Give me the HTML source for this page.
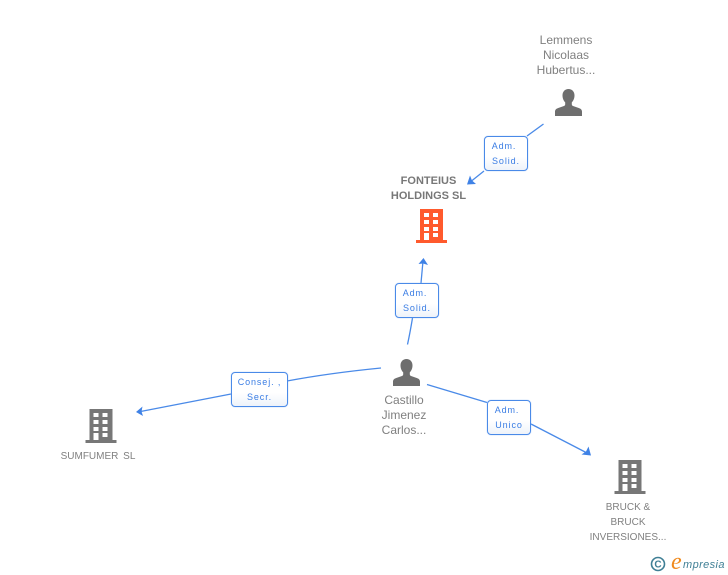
<!DOCTYPE html>
<html>
<head>
<meta charset="utf-8">
<style>
html,body{margin:0;padding:0;background:#fff;}
body{width:728px;height:575px;overflow:hidden;position:relative;font-family:"Liberation Sans",sans-serif;}
svg{position:absolute;left:0;top:0;}
.t{position:absolute;text-align:center;color:#808080;font-size:11px;line-height:15px;white-space:nowrap;transform:translateX(-50%);}
.p{font-size:12px;}
.b{position:absolute;box-sizing:border-box;border:1px solid #4a8ae8;border-radius:4px;background:linear-gradient(#fff 60%,#eef3fa);color:#3a7de4;font-size:9px;line-height:15px;letter-spacing:.9px;text-align:center;padding-top:2px;white-space:nowrap;box-shadow:0 0 1px #8fb5ee;}
.b span{position:relative;left:-2px;}
</style>
</head>
<body>
<svg width="728" height="575" viewBox="0 0 728 575">
<defs>
<g id="person">
<path d="M13.500 0c3.500 0 6 2.600 6 6.400 0 3-1.100 5.400-2.700 7v1.800c0 1 .5 1.500 1.600 1.900l5.700 2c2.100.8 2.900 1.900 2.900 3.700V27H0v-4.200c0-1.800.8-2.900 2.900-3.700l5.700-2c1.100-.4 1.600-.9 1.600-1.900v-1.800c-1.600-1.600-2.700-4-2.700-7C7.500 2.600 10 0 13.500 0z" fill="#6e6e6e"/>
</g>
<g id="bld">
<path fill-rule="evenodd" d="M4 0H27V31H31V34H0V31H4ZM8 4V8H13V4ZM17 4V8H22V4ZM8 11V15H13V11ZM17 11V15H22V11ZM8 18V22H13V18ZM17 18V22H22V18ZM8 24V31H13V24ZM17 24V28H22V24Z"/>
</g>
</defs>
<g fill="none" stroke="#4a8ae8" stroke-width="1.300">
<path d="M543.500 124L527 136"/>
<path d="M484 171L469 183"/>
<path d="M407.500 344.500Q410 333 412.500 318"/>
<path d="M421 283L423 261"/>
<path d="M381 368Q330 373 287 381"/>
<path d="M231 394L138 412"/>
<path d="M427 384.500L487 402.500"/>
<path d="M531 424L589 454"/>
</g>
<g fill="#3f82e6">
<path d="M467 184.500L470 175.500L472 180.500L476 184Z"/>
<path d="M423.500 258L428 265L423 263.500L418.500 264Z"/>
<path d="M136 412L142.500 406.500L141.500 411.500L143 416Z"/>
<path d="M591 455.500L581.500 454.500L586 451.500L588.500 446.500Z"/>
</g>
<use href="#person" x="555" y="89"/>
<use href="#person" x="393" y="359"/>
<use href="#bld" x="416" y="209" fill="#ff5a2d"/>
<use href="#bld" x="85.500" y="409" fill="#777777"/>
<use href="#bld" x="614.500" y="460" fill="#777777"/>
<g fill="none" stroke="#3f7f95" stroke-width="1.600"><circle cx="658" cy="564" r="6.500"/></g>
<text x="658" y="567.500" font-family="Liberation Sans, sans-serif" font-size="10" font-weight="bold" fill="#3f7f95" text-anchor="middle">C</text>
<text x="671" y="569" font-family="Liberation Serif, serif" font-style="italic" font-size="24" fill="#f08a1d">e</text>
<text x="683" y="568" font-family="Liberation Sans, sans-serif" font-style="italic" font-size="11" letter-spacing=".4" fill="#3f7f95">mpresia</text>
</svg>

<div class="t p" style="left:566px;top:33px;">Lemmens<br>Nicolaas<br>Hubertus...</div>
<div class="t" style="left:428.500px;top:174px;font-weight:bold;color:#777;">FONTEIUS<br>HOLDINGS SL</div>
<div class="t p" style="left:404px;top:393px;">Castillo<br>Jimenez<br>Carlos...</div>
<div class="t" style="left:98px;top:449px;font-size:10px;word-spacing:2px;">SUMFUMER SL</div>
<div class="t" style="left:628px;top:500px;font-size:10px;">BRUCK &amp;<br>BRUCK<br>INVERSIONES...</div>

<div class="b" style="left:484px;top:136px;width:44px;height:35px;"><span>Adm.</span><br>Solid.</div>
<div class="b" style="left:395px;top:283px;width:44px;height:35px;"><span>Adm.</span><br>Solid.</div>
<div class="b" style="left:231px;top:372px;width:57px;height:35px;">Consej. ,<br>Secr.</div>
<div class="b" style="left:487px;top:400px;width:44px;height:35px;"><span>Adm.</span><br>Unico</div>
</body>
</html>
